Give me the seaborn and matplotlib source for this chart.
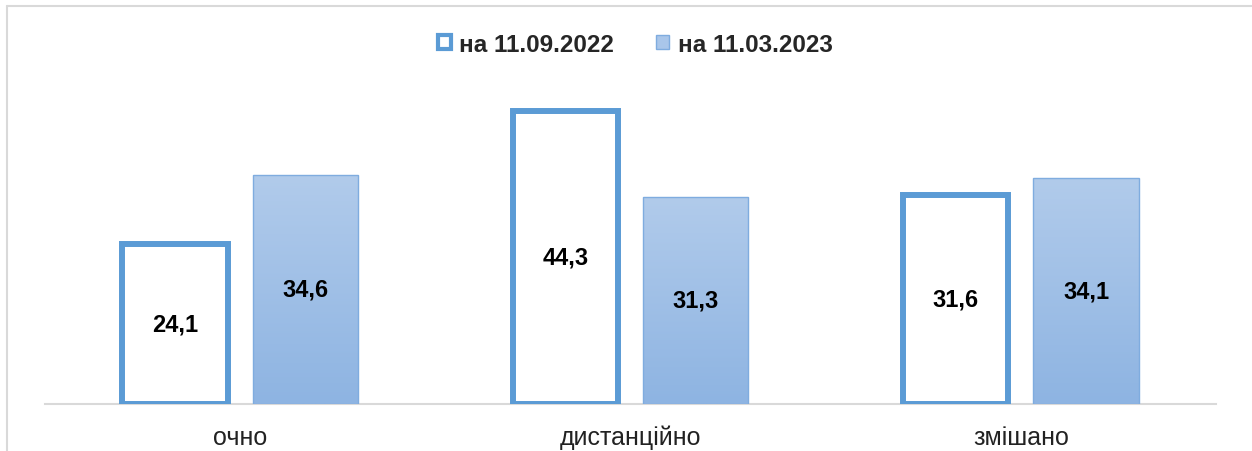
import numpy as np
import pandas as pd
import seaborn as sns
import matplotlib
import matplotlib.pyplot as plt
from matplotlib.patches import Patch
from matplotlib.lines import Line2D
from matplotlib.colors import LinearSegmentedColormap

matplotlib.use("Agg")

# дані
categories = ["очно", "дистанційно", "змішано"]
series_names = ["на 11.09.2022", "на 11.03.2023"]
values_2022 = [24.1, 44.3, 31.6]
values_2023 = [34.6, 31.3, 34.1]

df = pd.DataFrame({
    "cat": categories * 2,
    "date": [series_names[0]] * 3 + [series_names[1]] * 3,
    "val": values_2022 + values_2023,
})

sns.set_theme(style="white")
plt.rcParams["font.family"] = ["Liberation Sans", "DejaVu Sans"]

edge_blue = "#5B9BD5"
grad = LinearSegmentedColormap.from_list("g", ["#8EB4E2", "#B1CBEB"])

fig = plt.figure(figsize=(12.52, 4.52), dpi=100)
ax = fig.add_axes([45 / 1252, 47 / 452, 1171 / 1252, 331 / 452])

sns.barplot(data=df, x="cat", y="val", hue="date", hue_order=series_names,
            palette=["white", "#9FC0E7"], width=0.668, gap=0.19,
            legend=False, ax=ax)

# перша серія: білі стовпці з товстою рамкою
for p in ax.containers[0]:
    p.set_facecolor("white")
    p.set_edgecolor(edge_blue)
    p.set_linewidth(4.3)
    p.set_joinstyle("miter")

# друга серія: градієнт
for p in ax.containers[1]:
    x, w, h = p.get_x(), p.get_width(), p.get_height()
    im = ax.imshow(np.linspace(1, 0, 100).reshape(-1, 1), cmap=grad,
                   extent=[x, x + w, 0, h], aspect="auto", zorder=1)
    im.set_clip_path(p)
    p.set_facecolor("none")
    p.set_edgecolor("#7FACDF")
    p.set_linewidth(1.0)
    p.set_zorder(2)

for cont, vals in zip(ax.containers, [values_2022, values_2023]):
    ax.bar_label(cont, labels=[f"{v:.1f}".replace(".", ",") for v in vals],
                 label_type="center", fontsize=17, fontweight="bold",
                 color="black")

ax.set_xlim(-0.5, 2.5)
ax.set_ylim(0, 50)
ax.set_xlabel("")
ax.set_ylabel("")
ax.set_yticks([])
ax.tick_params(axis="x", length=0, pad=15, labelsize=18, labelcolor="#222222")
for s in ["top", "right", "left"]:
    ax.spines[s].set_visible(False)
ax.spines["bottom"].set_color("#D9D9D9")
ax.spines["bottom"].set_linewidth(1.5)
ax.spines["bottom"].set_zorder(0)

handles = [
    Patch(facecolor="white", edgecolor=edge_blue, linewidth=3),
    Patch(facecolor="#A9C6EA", edgecolor="#7FACDF", linewidth=1),
]
fig.legend(handles, series_names, loc="center", bbox_to_anchor=(635 / 1252, 1 - 45 / 452),
           ncol=2, frameon=False, handlelength=0.55, handleheight=0.55,
           handletextpad=0.35, columnspacing=1.7,
           prop={"size": 17.5, "weight": "bold"})

# рамка
fig.add_artist(Line2D([7 / 1252, 7 / 1252], [0, 1 - 7 / 452], color="#D9D9D9", lw=1.5))
fig.add_artist(Line2D([7 / 1252, 1], [1 - 7 / 452, 1 - 7 / 452], color="#D9D9D9", lw=1.5))

fig.savefig("out.png", dpi=100)
